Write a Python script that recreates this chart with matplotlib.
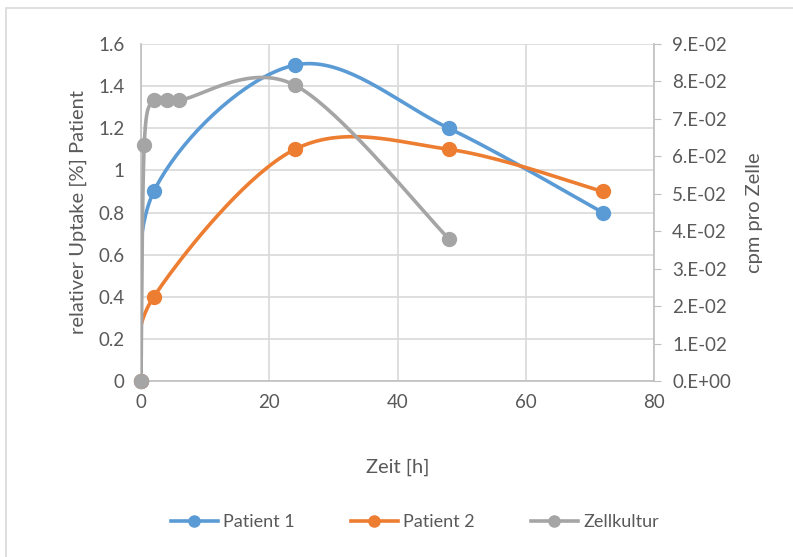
import numpy as np
import matplotlib.pyplot as plt
from matplotlib.patches import Rectangle

# Messwerte
zeit_patient = [0, 2, 24, 48, 72]
patient_1 = [0, 0.9, 1.5, 1.2, 0.8]
patient_2 = [0, 0.4, 1.1, 1.1, 0.9]

zeit_kultur = [0, 0.5, 2, 4, 6, 24, 48]
zellkultur = [0, 0.063, 0.075, 0.075, 0.075, 0.079, 0.038]

x_ticks = [0, 20, 40, 60, 80]
y_ticks = [0, 0.2, 0.4, 0.6, 0.8, 1, 1.2, 1.4, 1.6]
y_tick_labels = ['0', '0.2', '0.4', '0.6', '0.8', '1', '1.2', '1.4', '1.6']
y2_ticks = [i * 0.01 for i in range(10)]
y2_tick_labels = ['0.E+00'] + ['%d.E-02' % i for i in range(1, 10)]

BLUE = '#5B9BD5'
ORANGE = '#ED7D31'
GRAY = '#A5A5A5'
TEXT = '#595959'
GRID = '#D9D9D9'
AXIS = '#BFBFBF'

plt.rcParams['font.family'] = ['Lato', 'DejaVu Sans']


def smooth(x, y, n=40):
    # geglaettete Linie wie in Excel (Bezier, Tangente = Nachbardifferenz / 6)
    p = np.column_stack([x, y]).astype(float)
    pts = np.vstack([p[0], p, p[-1]])
    out = [p[0]]
    t = np.linspace(0, 1, n)[1:, None]
    for i in range(1, len(pts) - 2):
        p0, p1, p2, p3 = pts[i - 1], pts[i], pts[i + 1], pts[i + 2]
        c1 = p1 + (p2 - p0) / 6
        c2 = p2 - (p3 - p1) / 6
        seg = ((1 - t) ** 3) * p1 + 3 * ((1 - t) ** 2) * t * c1 + 3 * (1 - t) * t ** 2 * c2 + t ** 3 * p2
        out.extend(seg)
    out = np.array(out)
    return out[:, 0], out[:, 1]


fig = plt.figure(figsize=(7.93, 5.57), dpi=100)
fig.patches.append(Rectangle((6 / 793, -0.1), 1.2, 1 - 8 / 557 + 0.1,
                             transform=fig.transFigure, fill=False,
                             edgecolor=GRID, linewidth=1.2))

ax = fig.add_axes([141 / 793, 1 - 381 / 557, (654 - 141) / 793, (381 - 44) / 557])
ax2 = ax.twinx()

ax.set_xlim(0, 80)
ax.set_ylim(0, 1.6)
ax2.set_ylim(0, 0.09)

ax.set_xticks(x_ticks)
ax.set_yticks(y_ticks)
ax.set_yticklabels(y_tick_labels)
ax2.set_yticks(y2_ticks)
ax2.set_yticklabels(y2_tick_labels)

ax.grid(True, color=GRID, linewidth=1.2)
ax.set_axisbelow(True)

for a in (ax, ax2):
    for s in a.spines.values():
        s.set_visible(False)
ax.spines['left'].set_visible(True)
ax.spines['left'].set_color(AXIS)
ax.spines['left'].set_linewidth(1.2)
ax.spines['bottom'].set_visible(True)
ax.spines['bottom'].set_color(AXIS)
ax.spines['bottom'].set_linewidth(1.2)
ax2.spines['right'].set_visible(True)
ax2.spines['right'].set_color(AXIS)
ax2.spines['right'].set_linewidth(1.2)

ax.tick_params(axis='both', length=0, labelsize=13.5, labelcolor=TEXT, pad=9)
ax.tick_params(axis='y', pad=12)
ax2.tick_params(axis='y', length=5, color=AXIS, labelsize=13.5, labelcolor=TEXT, pad=8)

ax.set_xlabel('Zeit [h]', fontsize=14.5, color=TEXT, labelpad=35)
ax.set_ylabel('relativer Uptake [%] Patient', fontsize=14.5, color=TEXT, labelpad=8)
ax2.set_ylabel('cpm pro Zelle', fontsize=14.5, color=TEXT, labelpad=11)

lines = []
for a, xs, ys, c, name in [(ax, zeit_patient, patient_1, BLUE, 'Patient 1'),
                           (ax, zeit_patient, patient_2, ORANGE, 'Patient 2'),
                           (ax2, zeit_kultur, zellkultur, GRAY, 'Zellkultur')]:
    sx, sy = smooth(xs, ys)
    a.plot(sx, sy, color=c, linewidth=2.6, solid_capstyle='round', zorder=3)
    a.plot(xs, ys, 'o', color=c, markersize=10, zorder=4, clip_on=False)
    lines.append(plt.Line2D([], [], color=c, linewidth=2.6, marker='o', markersize=8, label=name))

fig.legend(handles=lines, loc='center', bbox_to_anchor=(0.523, 1 - 522 / 557), ncol=3,
           frameon=False, fontsize=13, labelcolor=TEXT, handlelength=2.6,
           columnspacing=3.1, handletextpad=0.3)

fig.savefig('out.png', dpi=100)
